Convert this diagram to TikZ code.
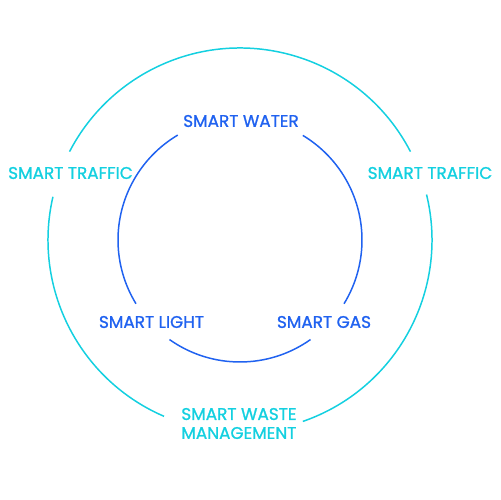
\documentclass[tikz,border=0pt]{standalone}
\usepackage{fontspec}
\setmainfont{Poppins}[FakeBold=1.2]
\definecolor{ringcyan}{RGB}{20,208,224}
\definecolor{ringblue}{RGB}{32,98,240}

\begin{document}
\begin{tikzpicture}[x=.02cm,y=.02cm,font=\fontsize{9.6}{10.8}\selectfont,
  outer/.style={draw=ringcyan,line width=.85pt},
  inner/.style={draw=ringblue,line width=.85pt},
  outlabel/.style={text=ringcyan,inner sep=0pt},
  inlabel/.style={text=ringblue,inner sep=0pt}]
\useasboundingbox (0,0) rectangle (500,500);
% outer ring, broken at the labels
\draw[outer] (240,260) ++(27.4:192) arc[start angle=27.4,end angle=152.6,radius=192];
\draw[outer] (240,260) ++(167:192) arc[start angle=167,end angle=246.7,radius=192];
\draw[outer] (240,260) ++(-70.9:192) arc[start angle=-70.9,end angle=13.7,radius=192];
% inner ring
\draw[inner] (240,260) ++(-31.5:122) arc[start angle=-31.5,end angle=59,radius=122];
\draw[inner] (240,260) ++(120.7:122) arc[start angle=120.7,end angle=211.5,radius=122];
\draw[inner] (240,260) ++(234.7:122) arc[start angle=234.7,end angle=305.3,radius=122];
% labels
\node[inlabel] (water) at (241,379) {SMART WATER};
\node[inlabel] (light) at (151.5,178) {SMART LIGHT};
\node[inlabel] (gas) at (324,178) {SMART GAS};
\node[outlabel] (trafficl) at (70.5,327) {SMART TRAFFIC};
\node[outlabel] (trafficr) at (430,327) {SMART TRAFFIC};
\node[outlabel,align=left,anchor=west] (waste) at (181,76.5) {SMART WASTE\\MANAGEMENT};
\end{tikzpicture}
\end{document}
